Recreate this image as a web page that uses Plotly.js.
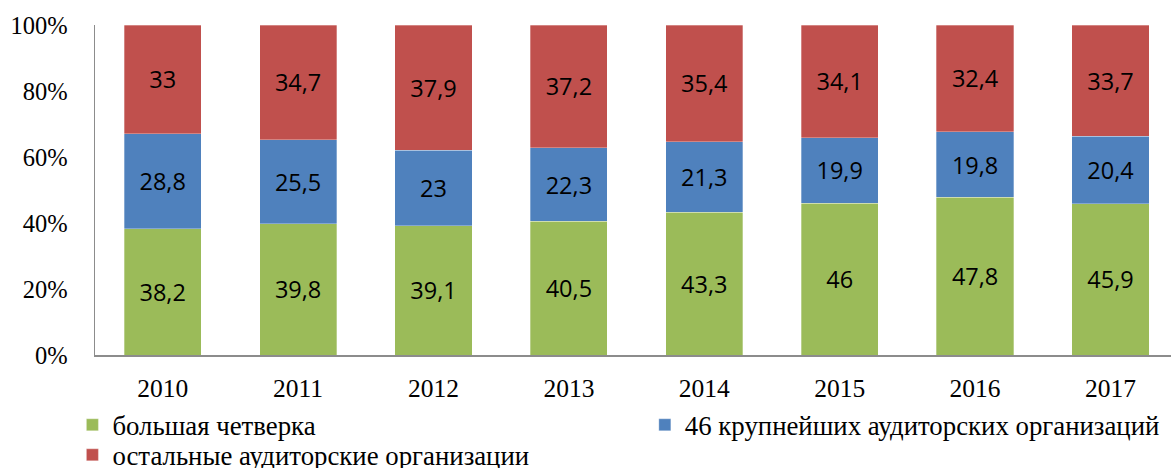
<!DOCTYPE html>
<html><head><meta charset="utf-8">
<script src="https://cdn.plot.ly/plotly-3.0.1.min.js"></script>
<style>html,body{margin:0;padding:0;background:#fff}</style>
</head><body><div id="chart" style="width:1171px;height:468px"></div>
<script>
const years = ['2010','2011','2012','2013','2014','2015','2016','2017'];
const bigFour = [38.2, 39.8, 39.1, 40.5, 43.3, 46, 47.8, 45.9];
const top46 = [28.8, 25.5, 23, 22.3, 21.3, 19.9, 19.8, 20.4];
const others = [33, 34.7, 37.9, 37.2, 35.4, 34.1, 32.4, 33.7];
const names = ['большая четверка', '46 крупнейших аудиторских организаций', 'остальные аудиторские организации'];
const colors = ['#9BBB59', '#4F81BD', '#C0504D'];
const yTickVals = [0, 20, 40, 60, 80, 100];
const yTickText = ['0%', '20%', '40%', '60%', '80%', '100%'];
const fmt = v => String(v).replace('.', ',');
const series = [bigFour, top46, others];
const legendIds = ['legend', 'legend2', 'legend3'];
const serif = "'Liberation Serif', 'Times New Roman', serif";
const traces = series.map((s, i) => ({
  type: 'bar', x: years, y: s, name: names[i], legend: legendIds[i],
  marker: {color: colors[i], line: {color: 'rgba(255,255,255,0.6)', width: 0.5}},
  text: s.map(fmt), texttemplate: '%{text}', textposition: 'inside',
  insidetextanchor: 'middle', textangle: 0, constraintext: 'none',
  textfont: {family: "'Open Sans', 'Noto Sans', sans-serif", size: 23.5, color: '#000'},
  hoverinfo: 'skip'
}));
const legendBase = {orientation: 'h', xanchor: 'left', yanchor: 'top', bgcolor: 'rgba(0,0,0,0)',
  font: {family: serif, size: 26.8, color: '#000'}, itemwidth: 30};
const layout = {
  width: 1171, height: 468,
  margin: {l: 95, r: 0, t: 25, b: 113, autoexpand: false},
  barmode: 'stack', barnorm: 'percent', bargap: 0.43,
  paper_bgcolor: '#fff', plot_bgcolor: '#fff',
  font: {family: serif, size: 20, color: '#000'},
  xaxis: {type: 'category', range: [-0.5, 7.447], showline: true, linecolor: '#8c8c8c', linewidth: 1.5,
          ticks: '', showgrid: false, ticklabelstandoff: 10, automargin: false,
          tickfont: {family: serif, size: 25.5, color: '#000'}},
  yaxis: {range: [0, 100], tickmode: 'array', tickvals: yTickVals, ticktext: yTickText, showline: true,
          linecolor: '#8c8c8c', linewidth: 1.5, ticks: '', showgrid: false, zeroline: false,
          ticklabelstandoff: 21, automargin: false,
          tickfont: {family: serif, size: 24.5, color: '#000'}},
  showlegend: true,
  legend: Object.assign({}, legendBase, {x: -0.021, y: -0.139}),
  legend2: Object.assign({}, legendBase, {x: 0.511, y: -0.139}),
  legend3: Object.assign({}, legendBase, {x: -0.021, y: -0.230})
};
Plotly.newPlot('chart', traces, layout, {displayModeBar: false, staticPlot: true});
</script></body></html>
